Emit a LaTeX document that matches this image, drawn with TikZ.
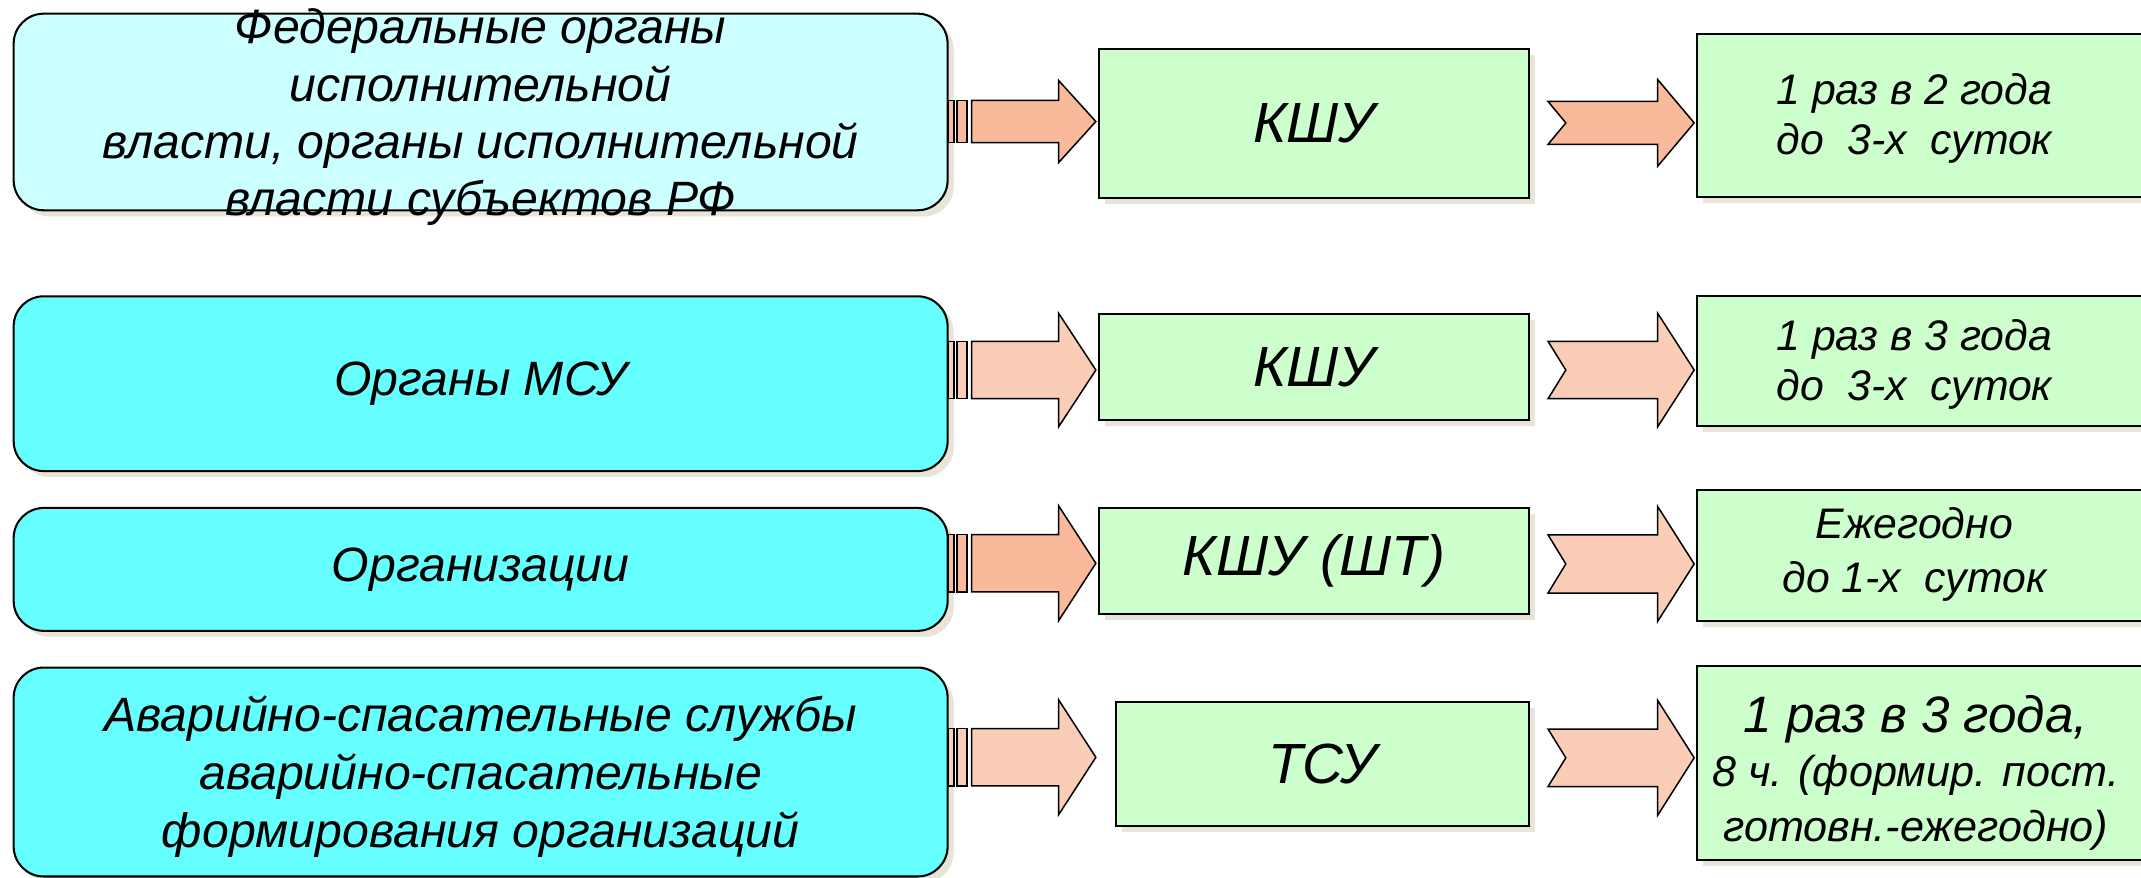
\documentclass[tikz,border=0pt]{standalone}
\usepackage{fontspec}
\setmainfont{Liberation Sans}
\usetikzlibrary{calc,shadows}
\definecolor{cyanA}{HTML}{CCFFFF}
\definecolor{cyanB}{HTML}{66FFFF}
\definecolor{greenA}{HTML}{CCFFCC}
\definecolor{salmonD}{HTML}{F9BA9B}
\definecolor{salmonL}{HTML}{FACDB7}
\definecolor{shadowc}{HTML}{E8E5D8}
\newcommand{\blockarr}[4]{%
  \draw[arw,fill=#2] (#1) ++(0,-#3) rectangle ++(4,2*#3);
  \draw[arw,fill=#2] (#1) ++(6,-#3) rectangle ++(7.4,2*#3);
  \draw[arw,fill=#2] (#1) ++(16.8,-#3) -- ++(63.8,0) -- ++(0,{-(#4-#3)}) -- ++(27.2,#4) -- ++(-27.2,#4) -- ++(0,{-(#4-#3)}) -- ++(-63.8,0) -- cycle;}
\newcommand{\chevarr}[4]{%
  \draw[arw,fill=#2] (#1) ++(0,-#3) -- ++(80.3,0) -- ++(0,{-(#4-#3)}) -- ++(26.7,#4) -- ++(-26.7,#4) -- ++(0,{-(#4-#3)}) -- ++(-80.3,0) -- ++(13,-#3) -- cycle;}
\begin{document}
\begin{tikzpicture}[x=1pt,y=-1pt,
  shad/.style={drop shadow={shadow xshift=4.5pt,shadow yshift=-4.5pt,fill=shadowc,opacity=1}},
  lbox/.style={draw=black,line width=1.5pt,rounded corners=22pt,minimum width=684pt,inner sep=0pt,align=center,font=\itshape\fontsize{35.3}{41.5}\selectfont,shad},
  mbox/.style={draw=black,line width=1.5pt,fill=greenA,inner sep=0pt,minimum width=315.4pt,font=\itshape\fontsize{41.5}{48}\selectfont,shad},
  rbox/.style={draw=black,line width=1.5pt,fill=greenA,inner sep=0pt,minimum width=357pt,shad},
  rtext/.style={align=center,inner sep=0pt,font=\itshape\fontsize{31.3}{36.5}\selectfont},
  arw/.style={draw=black,line width=1.1pt,line join=miter}]
\fill[white] (0,0) rectangle (1568,643);
\useasboundingbox (0,0) rectangle (1568,643);
% left boxes
\node[lbox,fill=cyanA,minimum height=144pt] (L1) at (352,82) {};
\node[lbox,fill=cyanB,minimum height=128pt] (L2) at (352,281) {Органы МСУ};
\node[lbox,fill=cyanB,minimum height=90pt] (L3) at (352,417) {Организации};
\node[lbox,fill=cyanB,minimum height=153pt,font=\itshape\fontsize{35.3}{42.5}\selectfont] (L4) at (352,565.4) {};
\node[align=center,inner sep=0pt,font=\itshape\fontsize{35.3}{42.5}\selectfont] (L4t) at (352,568.5) {Аварийно-спасательные службы\\аварийно-спасательные\\формирования организаций};
\node[align=center,inner sep=0pt,font=\itshape\fontsize{35.3}{42}\selectfont] (L1t) at (352,86) {Федеральные органы\\исполнительной\\власти, органы исполнительной\\власти субъектов РФ};
% middle boxes
\node[mbox,minimum height=109pt] (M1) at (962.3,90.5) {КШУ};
\node[mbox,minimum height=77.5pt] (M2) at (962.3,268.75) {КШУ};
\node[mbox,minimum height=77.5pt] (M3) at (962.3,410.75) {КШУ (ШТ)};
\node[mbox,minimum width=303pt,minimum height=91pt] (M4) at (968.5,559.5) {ТСУ};
% right boxes
\node[rbox,minimum height=119pt] (R1) at (1421.5,84.5) {};
\node[rbox,minimum height=95pt] (R2) at (1421.5,264.5) {};
\node[rbox,minimum height=96pt] (R3) at (1421.5,407) {};
\node[rbox,minimum height=142pt] (R4) at (1421.5,559) {};
\node[rtext] (R1t) at (1402,86.5) {1 раз в 2 года\\до~~3-х~~суток};
\node[rtext] (R2t) at (1402,267) {1 раз в 3 года\\до~~3-х~~суток};
\node[rtext,font=\itshape\fontsize{31.3}{40}\selectfont] (R3t) at (1402,406) {Ежегодно\\до 1-х~~суток};
\node[rtext,font=\itshape\fontsize{31.6}{40}\selectfont] (R4t) at (1403,566) {{\fontsize{37.5}{40}\selectfont 1 раз в 3 года,}\\8 ч. (формир. пост.\\готовн.-ежегодно)};
% block arrows
\coordinate (a1) at (L1.east |- 0,89);
\coordinate (a2) at (L2.east |- 0,271);
\coordinate (a3) at (L3.east |- 0,412.5);
\coordinate (a4) at (L4.east |- 0,554.6);
\blockarr{a1}{salmonD}{15.5}{30}
\blockarr{a2}{salmonL}{21}{41.5}
\blockarr{a3}{salmonD}{21}{42}
\blockarr{a4}{salmonL}{21}{42}
% chevron arrows
\coordinate (c1) at ($(M1.east |- 0,90)+(13,0)$);
\coordinate (c2) at ($(M2.east |- 0,271)+(13,0)$);
\coordinate (c3) at ($(M3.east |- 0,413)+(13,0)$);
\coordinate (c4) at ($(M4.east |- 0,555)+(13,0)$);
\chevarr{c1}{salmonD}{15.7}{31.7}
\chevarr{c2}{salmonL}{21}{41.5}
\chevarr{c3}{salmonL}{21.3}{42}
\chevarr{c4}{salmonL}{21}{42}
\end{tikzpicture}
\end{document}
